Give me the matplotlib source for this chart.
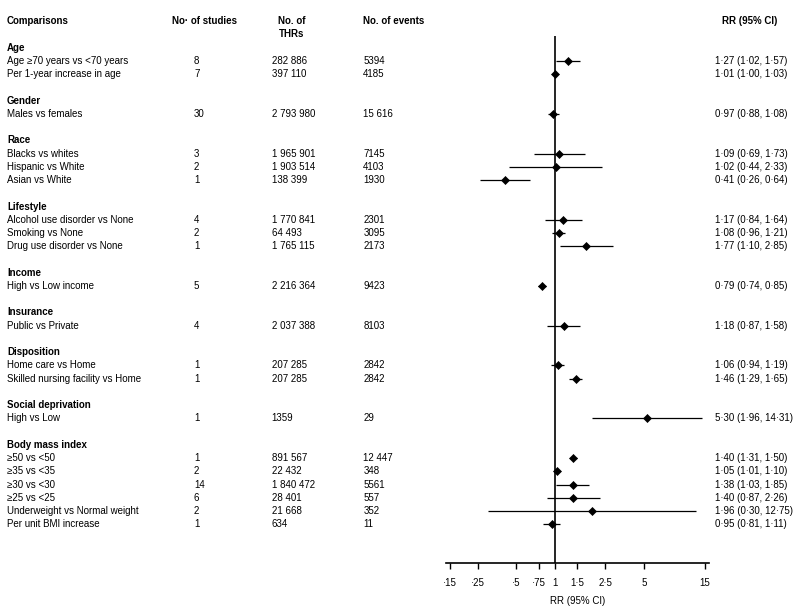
import matplotlib
matplotlib.use("Agg")
import matplotlib.pyplot as plt
import matplotlib.transforms as mtransforms
import numpy as np

plt.rcParams['font.family'] = ['Liberation Sans', 'DejaVu Sans']

# ---------------- data ----------------
groups = ["Age", "Gender", "Race", "Lifestyle", "Income", "Insurance",
          "Disposition", "Social deprivation", "Body mass index"]
row_group = [0, 0, 1, 2, 2, 2, 3, 3, 3, 4, 5, 6, 6, 7, 8, 8, 8, 8, 8, 8]
comparisons = [
    "Age ≥70 years vs <70 years", "Per 1-year increase in age",
    "Males vs females",
    "Blacks vs whites", "Hispanic vs White", "Asian vs White",
    "Alcohol use disorder vs None", "Smoking vs None", "Drug use disorder vs None",
    "High vs Low income",
    "Public vs Private",
    "Home care vs Home", "Skilled nursing facility vs Home",
    "High vs Low",
    "≥50 vs <50", "≥35 vs <35", "≥30 vs <30", "≥25 vs <25",
    "Underweight vs Normal weight", "Per unit BMI increase",
]
n_studies = [8, 7, 30, 3, 2, 1, 4, 2, 1, 5, 4, 1, 1, 1, 1, 2, 14, 6, 2, 1]
n_thrs = ["282 886", "397 110", "2 793 980", "1 965 901", "1 903 514", "138 399",
          "1 770 841", "64 493", "1 765 115", "2 216 364", "2 037 388",
          "207 285", "207 285", "1359", "891 567", "22 432", "1 840 472",
          "28 401", "21 668", "634"]
n_events = ["5394", "4185", "15 616", "7145", "4103", "1930", "2301", "3095",
            "2173", "9423", "8103", "2842", "2842", "29", "12 447", "348",
            "5561", "557", "352", "11"]
rr = [1.27, 1.01, 0.97, 1.09, 1.02, 0.41, 1.17, 1.08, 1.77, 0.79, 1.18,
      1.06, 1.46, 5.30, 1.40, 1.05, 1.38, 1.40, 1.96, 0.95]
ci_low = [1.02, 1.00, 0.88, 0.69, 0.44, 0.26, 0.84, 0.96, 1.10, 0.74, 0.87,
          0.94, 1.29, 1.96, 1.31, 1.01, 1.03, 0.87, 0.30, 0.81]
ci_high = [1.57, 1.03, 1.08, 1.73, 2.33, 0.64, 1.64, 1.21, 2.85, 0.85, 1.58,
           1.19, 1.65, 14.31, 1.50, 1.10, 1.85, 2.26, 12.75, 1.11]
xticks = [0.15, 0.25, 0.5, 0.75, 1, 1.5, 2.5, 5, 15]
xtick_labels = ["·15", "·25", "·5", "·75", "1", "1·5", "2·5", "5", "15"]


def fmt(v):
    return f"{v:.2f}".replace(".", "·")


# ---------------- layout ----------------
W, H = 800, 616
fig = plt.figure(figsize=(W / 100, H / 100), dpi=100)
ax_left, ax_right = 445.7, 709.3
ax_bottom_px = 562.7
ax = fig.add_axes([ax_left / W, 1 - ax_bottom_px / H,
                   (ax_right - ax_left) / W, ax_bottom_px / H])

# row indices
header_idx = []
row_idx = []
idx = 0
for g in range(len(groups)):
    header_idx.append(idx)
    idx += 1
    for r, rg in enumerate(row_group):
        if rg == g:
            row_idx.append(idx)
            idx += 1
    idx += 1
row_idx = np.array(row_idx)

ax.set_xscale("log")
ax.set_xlim(0.1398, 16.29)
ax.set_ylim(38.9, -3.6)

# forest marks
ax.hlines(row_idx, ci_low, ci_high, color="black", lw=0.9)
ax.plot(rr, row_idx, linestyle="none", marker="D", ms=4.3, mfc="black",
        mec="black", mew=0.5)
ax.vlines(1, -0.88, 38.9, color="black", lw=1.2)

for s in ["top", "left", "right"]:
    ax.spines[s].set_visible(False)
ax.spines["bottom"].set_linewidth(1.2)
ax.set_yticks([])
ax.set_xticks(xticks)
ax.set_xticklabels(xtick_labels)
ax.xaxis.set_minor_locator(matplotlib.ticker.NullLocator())
ax.tick_params(axis="x", direction="out", length=4.5, width=1.0, pad=6.5,
               labelsize=7)
ax.set_xlabel("RR (95% CI)", fontsize=7, labelpad=6)
ax.patch.set_visible(False)

# ---------------- text columns ----------------
tr = mtransforms.blended_transform_factory(fig.transFigure, ax.transData)
fs = 7


def px(x):
    return x / W


col_label, col_studies, col_thrs, col_events, col_rr = 7, 194, 271.7, 363.3, 715

kw = dict(transform=tr, fontsize=fs, va="center")
ax.text(px(col_label), -2.0, "Comparisons", fontweight="bold", ha="left", **kw)
ax.text(px(171.7), -2.0, "No· of studies", fontweight="bold", ha="left", **kw)
ax.text(px(291.5), -2.0, "No. of", fontweight="bold", ha="center", **kw)
ax.text(px(291.5), -1.03, "THRs", fontweight="bold", ha="center", **kw)
ax.text(px(col_events), -2.0, "No. of events", fontweight="bold", ha="left", **kw)
ax.text(px(749.5), -2.0, "RR (95% CI)", fontweight="bold", ha="center", **kw)

for g, name in enumerate(groups):
    ax.text(px(col_label), header_idx[g], name, fontweight="bold", ha="left", **kw)

for i, y in enumerate(row_idx):
    ax.text(px(col_label), y, comparisons[i], ha="left", **kw)
    ax.text(px(col_studies), y, str(n_studies[i]), ha="left", **kw)
    ax.text(px(col_thrs), y, n_thrs[i], ha="left", **kw)
    ax.text(px(col_events), y, n_events[i], ha="left", **kw)
    ax.text(px(col_rr), y,
            f"{fmt(rr[i])} ({fmt(ci_low[i])}, {fmt(ci_high[i])})",
            ha="left", **kw)

fig.savefig("out.png", dpi=100)
